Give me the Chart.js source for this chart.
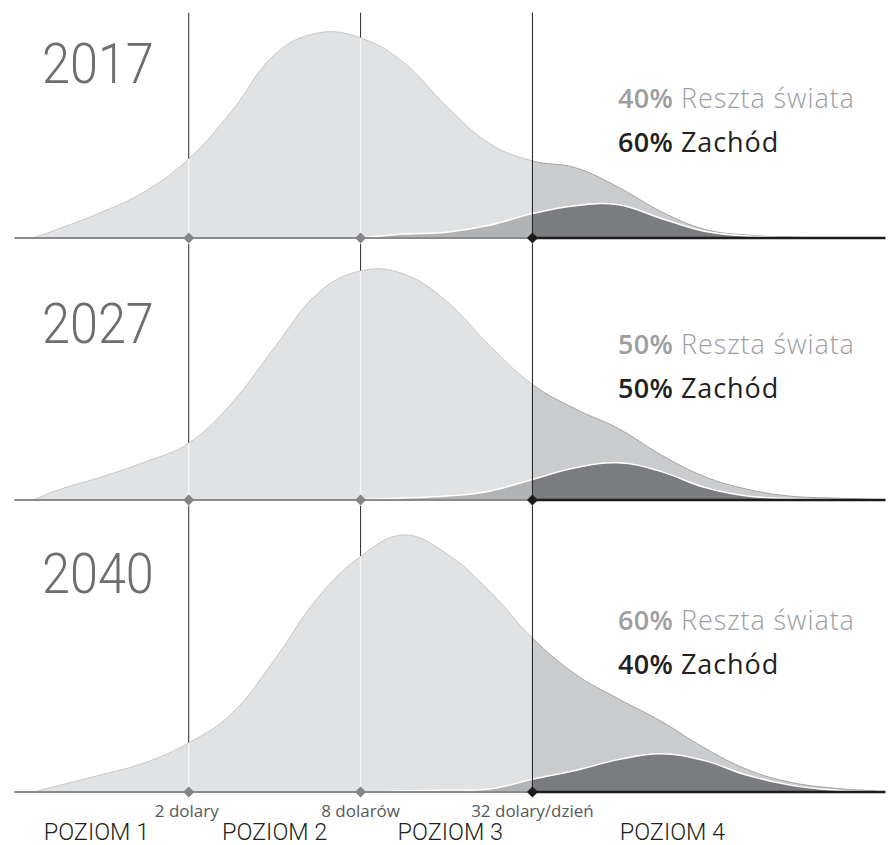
<!DOCTYPE html>
<html lang="pl">
<head>
<meta charset="UTF-8">
<title>Poziomy dochodu 2017-2040</title>
<script src="https://cdn.jsdelivr.net/npm/chart.js@4.4.1/dist/chart.umd.min.js"></script>
<style>
  body { margin: 0; background: #fff; width: 891px; height: 845px; position: relative; overflow: hidden; }
  .panel { position: absolute; left: 0; width: 891px; }
  .txt { position: absolute; white-space: nowrap; line-height: 1; }
  .year { font-family: Roboto, sans-serif; font-weight: 300; font-size: 56px; color: #6d6e71;
          left: 42px; transform: scaleX(0.9); transform-origin: left top; }
  .share { font-family: "Open Sans", sans-serif; font-size: 27px; letter-spacing: 0.9px; left: 618px; }
  .share b { font-weight: 600; letter-spacing: 0.3px; }
  .share span { font-weight: 300; }
  .rest { color: #9d9ea0; }
  .west { color: #231f20; }
  .thr { font-family: "Open Sans", sans-serif; font-size: 17px; color: #58595b; top: 802px; transform: translateX(-50%); }
  .lvl { font-family: Roboto, sans-serif; font-weight: 300; font-size: 23.5px; color: #231f20; top: 821px; transform: translateX(-50%); }
</style>
</head>
<body>
<div class="panel" style="top:7px;height:241px;z-index:3"><canvas id="c0"></canvas></div>
<div class="panel" style="top:238px;height:272px;z-index:2"><canvas id="c1"></canvas></div>
<div class="panel" style="top:500px;height:302px;z-index:1"><canvas id="c2"></canvas></div>

<div class="txt year" style="top:36px">2017</div>
<div class="txt year" style="top:296px">2027</div>
<div class="txt year" style="top:546px">2040</div>

<script>
// dochód w dolarach dziennie (skala logarytmiczna)
const incomes = [0.57, 0.71, 1, 1.41, 2, 2.83, 4, 5.66, 8, 11.3, 16, 22.6, 32, 45.3, 64, 90.5, 128, 181, 256, 362, 512];

// cała populacja świata
const total2017 = [0, 5, 13.5, 24, 40.5, 65, 94, 105, 102.5, 90, 67.5, 48.5, 39.5, 36, 26, 13.5, 4.5, 1.5, 0.5, 0, 0];
const total2027 = [0, 5.5, 12, 19.5, 29, 49.5, 78, 105.5, 117, 115.5, 101.5, 79, 59, 46.5, 36.5, 23, 12, 5.5, 2, 1, 0.25];
const total2040 = [0, 3.5, 9, 15, 25, 40, 67.5, 99, 120, 131, 121.5, 102.5, 78.5, 60, 47.5, 36, 22.5, 11.5, 5, 2, 0.5];

// Zachód
const west2017 = [0, 0, 0, 0, 0, 0, 0, 0, 0.25, 2, 3, 6.5, 12.5, 16.5, 17, 10, 3.5, 1, 0.25, 0, 0];
const west2027 = [0, 0, 0, 0, 0, 0, 0, 0, 0.25, 1, 2, 4.5, 10.5, 16.5, 19, 14.5, 6.5, 2, 0.75, 0.25, 0];
const west2040 = [0, 0, 0, 0, 0, 0, 0, 0, 0, 0.5, 1, 1.5, 6.5, 11, 16.5, 19.5, 16, 8.5, 3.5, 1, 0.25];

const years = ['2017', '2027', '2040'];
const restShares = ['40%', '50%', '60%'];
const westShares = ['60%', '50%', '40%'];

const thresholds = [2, 8, 32];
const thresholdLabels = ['2 dolary', '8 dolarów', '32 dolary/dzień'];
const levelCenters = [0.95, 4, 16.5, 99];
const levelLabels = ['POZIOM 1', 'POZIOM 2', 'POZIOM 3', 'POZIOM 4'];

const xMin = 0.4561, xMax = 552.2, lineStart = 0.49;
const panelHeights = [231, 262, 292];
const shareTops = [84, 330, 606];

const totals = [total2017, total2027, total2040];
const wests = [west2017, west2027, west2040];

function buildPanel(i) {
    const total = totals[i];
    const west = wests[i];
    const yMax = panelHeights[i] / 2;
    const cut = thresholds[2];
    const pts = arr => incomes.map((x, k) => ({ x: x, y: arr[k] }));
    const split = (left, right) => c => c.p0.parsed.x >= cut ? right : left;
    const low = thresholds.filter(t => t < cut);

    const datasets = [
        // romby na osi
        {
            data: thresholds.map(t => ({ x: t, y: 0 })),
            showLine: false, pointStyle: 'rectRot', pointRadius: 5.5, pointBorderWidth: 0,
            pointBackgroundColor: thresholds.map(t => t >= cut ? '#1c1c1c' : '#848587'),
            clip: false
        },
        // linia 32 dolary
        {
            data: [{ x: cut, y: 0 }, { x: cut, y: yMax }],
            borderColor: '#1c1c1c', borderWidth: 1, clip: false
        },
        // oś pozioma
        {
            data: [{ x: lineStart, y: 0 }, { x: cut, y: 0 }, { x: xMax, y: 0 }],
            borderWidth: 2,
            segment: { borderColor: split('#8a8b8d', '#1c1c1c'), borderWidth: split(2, 2.6) },
            clip: false
        },
        // Zachód
        {
            data: pts(west), fill: 'origin', tension: 0.4,
            borderColor: '#ffffff', borderWidth: 1.5,
            segment: { backgroundColor: split('#b2b3b5', '#7b7c7f') }
        }
    ];
    // białe linie wewnątrz krzywej
    low.forEach(t => datasets.push({
        data: [{ x: t, y: 0 }, { x: t, y: total[incomes.indexOf(t)] }],
        borderColor: '#f7f7f7', borderWidth: 1.4
    }));
    // cała populacja
    datasets.push({
        data: pts(total), fill: 'origin', tension: 0.4, borderWidth: 1,
        segment: { backgroundColor: split('#e1e2e3', '#cbcccd'), borderColor: split('#c6c7c9', '#a3a4a6') }
    });
    // ciemne linie nad krzywą
    low.forEach(t => datasets.push({
        data: [{ x: t, y: 0 }, { x: t, y: yMax }],
        borderColor: '#2a2a2a', borderWidth: 1
    }));

    return new Chart(document.getElementById('c' + i), {
        type: 'line',
        data: { datasets: datasets },
        options: {
            responsive: true,
            maintainAspectRatio: false,
            animation: false,
            events: [],
            layout: { padding: { left: 0, right: 0, top: 0, bottom: 10 } },
            elements: { point: { radius: 0 }, line: { tension: 0 } },
            plugins: { legend: { display: false }, tooltip: { enabled: false } },
            scales: {
                x: { type: 'logarithmic', min: xMin, max: xMax, display: false },
                y: { min: 0, max: yMax, display: false }
            }
        }
    });
}

const charts = [0, 1, 2].map(buildPanel);

function addText(cls, html, left, top) {
    const el = document.createElement('div');
    el.className = 'txt ' + cls;
    el.innerHTML = html;
    if (left !== null) el.style.left = left + 'px';
    if (top !== null) el.style.top = top + 'px';
    document.body.appendChild(el);
}

years.forEach((y, i) => {
    addText('share rest', '<b>' + restShares[i] + '</b> <span>Reszta świata</span>', null, shareTops[i]);
    addText('share west', '<b>' + westShares[i] + '</b> Zachód', null, shareTops[i] + 44);
});

const sx = charts[2].scales.x;
thresholds.forEach((t, i) => addText('thr', thresholdLabels[i], sx.getPixelForValue(t) - (i === 0 ? 2 : 0), null));
levelCenters.forEach((v, i) => addText('lvl', levelLabels[i], sx.getPixelForValue(v), null));
</script>
</body>
</html>
